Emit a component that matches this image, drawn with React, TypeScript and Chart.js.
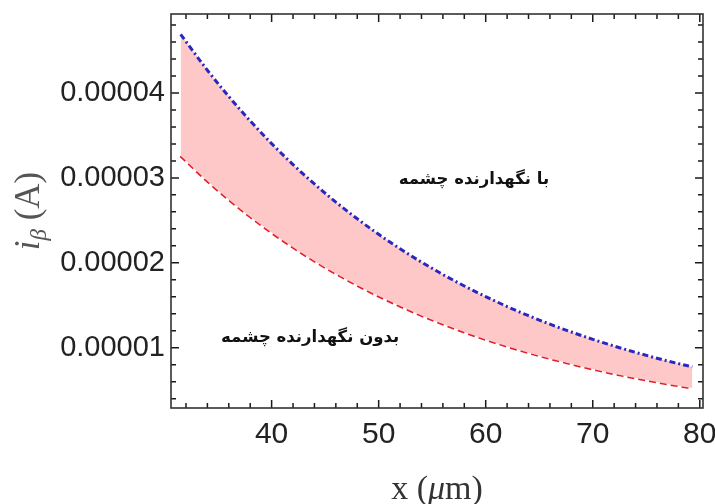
import React, { useEffect, useRef } from "react";
import { Chart, registerables } from "chart.js";

Chart.register(...registerables);

// x positions (µm)
const xs = [31.5, 34, 36, 38, 40, 42, 44, 46, 48, 50, 52, 54, 56, 58, 60, 62, 64, 66, 68, 70, 72, 74, 76, 78, 79.3];
// with source holder (blue, dot-dashed), A
const withHolder = [
  4.69e-5, 4.268e-5, 3.958e-5, 3.671e-5, 3.404e-5, 3.157e-5, 2.928e-5, 2.715e-5, 2.518e-5, 2.335e-5,
  2.165e-5, 2.008e-5, 1.862e-5, 1.727e-5, 1.602e-5, 1.485e-5, 1.377e-5, 1.277e-5, 1.185e-5, 1.099e-5,
  1.019e-5, 0.945e-5, 0.876e-5, 0.813e-5, 0.774e-5,
];
// without source holder (red, dashed), A
const withoutHolder = [
  3.26e-5, 2.963e-5, 2.745e-5, 2.543e-5, 2.356e-5, 2.183e-5, 2.022e-5, 1.874e-5, 1.736e-5, 1.608e-5,
  1.49e-5, 1.38e-5, 1.279e-5, 1.185e-5, 1.098e-5, 1.017e-5, 0.942e-5, 0.873e-5, 0.809e-5, 0.749e-5,
  0.694e-5, 0.643e-5, 0.596e-5, 0.552e-5, 0.525e-5,
];

const xTicks = [40, 50, 60, 70, 80];
const yTicks = [0.00001, 0.00002, 0.00003, 0.00004];
const yTickLabels = ["0.00001", "0.00002", "0.00003", "0.00004"];
const xMinorTicks = [32, 34, 36, 38, 40, 42, 44, 46, 48, 50, 52, 54, 56, 58, 60, 62, 64, 66, 68, 70, 72, 74, 76, 78, 80];
const yMinorTicks = [4, 6, 8, 10, 12, 14, 16, 18, 20, 22, 24, 26, 28, 30, 32, 34, 36, 38, 40, 42, 44, 46, 48];

const labelWith = "با نگهدارنده چشمه";
const labelWithout = "بدون نگهدارنده چشمه";
const labelWithPos = { x: 58.9, y: 2.975e-5 };
const labelWithoutPos = { x: 43.6, y: 1.115e-5 };

const X_MIN = 30.6, X_MAX = 80.3, Y_MIN = 0.29e-5, Y_MAX = 4.93e-5;

const tickFont = "'Liberation Sans', Arial, sans-serif";
const serif = "'Liberation Serif', 'DejaVu Serif', serif";

const overlayPlugin = {
  id: "overlay",
  afterDraw(chart: any) {
    const ctx: CanvasRenderingContext2D = chart.ctx;
    const a = chart.chartArea;
    const x = chart.scales.x, y = chart.scales.y;

    // frame + inward ticks
    ctx.save();
    ctx.strokeStyle = "#1a1a1a";
    ctx.lineWidth = 1.5;
    ctx.beginPath();
    for (const v of xMinorTicks) {
      const px = x.getPixelForValue(v);
      const len = v % 10 === 0 ? 8 : 5;
      ctx.moveTo(px, a.bottom); ctx.lineTo(px, a.bottom - len);
      ctx.moveTo(px, a.top); ctx.lineTo(px, a.top + len);
    }
    for (const k of yMinorTicks) {
      const py = y.getPixelForValue(k * 1e-6);
      const len = k % 10 === 0 ? 8 : 5;
      ctx.moveTo(a.left, py); ctx.lineTo(a.left + len, py);
      ctx.moveTo(a.right, py); ctx.lineTo(a.right - len, py);
    }
    ctx.stroke();
    ctx.lineWidth = 1.6;
    ctx.strokeStyle = "#333";
    ctx.strokeRect(a.left, a.top, a.right - a.left, a.bottom - a.top);
    ctx.restore();

    // annotations
    ctx.save();
    ctx.fillStyle = "#111";
    ctx.font = "bold 16.5px 'DejaVu Sans', sans-serif";
    ctx.textAlign = "center";
    ctx.textBaseline = "middle";
    (ctx as any).direction = "rtl";
    ctx.fillText(labelWith, x.getPixelForValue(labelWithPos.x), y.getPixelForValue(labelWithPos.y));
    ctx.fillText(labelWithout, x.getPixelForValue(labelWithoutPos.x), y.getPixelForValue(labelWithoutPos.y));
    ctx.restore();

    // x title: x (μm)
    ctx.save();
    ctx.fillStyle = "#333";
    ctx.textAlign = "left";
    ctx.textBaseline = "alphabetic";
    const parts: [string, string][] = [
      ["x (", `34px ${serif}`],
      ["μ", `italic 34px ${serif}`],
      ["m)", `34px ${serif}`],
    ];
    let total = 0;
    for (const [t, f] of parts) { ctx.font = f; total += ctx.measureText(t).width; }
    let cx = (a.left + a.right) / 2 - total / 2;
    for (const [t, f] of parts) { ctx.font = f; ctx.fillText(t, cx, 499); cx += ctx.measureText(t).width; }
    ctx.restore();

    // y title: i_β (A)
    ctx.save();
    ctx.translate(39, (a.top + a.bottom) / 2);
    ctx.rotate(-Math.PI / 2);
    ctx.fillStyle = "#555";
    ctx.textAlign = "left";
    ctx.textBaseline = "alphabetic";
    const yparts: [string, string, number][] = [
      ["i", `italic 35px ${serif}`, 0],
      ["β", `italic 23px ${serif}`, 7],
      [" (A)", `35px ${serif}`, 0],
    ];
    let tw = 0;
    for (const [t, f] of yparts) { ctx.font = f; tw += ctx.measureText(t).width; }
    let px = -tw / 2;
    for (const [t, f, dy] of yparts) { ctx.font = f; ctx.fillText(t, px, dy); px += ctx.measureText(t).width; }
    ctx.restore();
  },
};

export default function App() {
  const ref = useRef<HTMLCanvasElement | null>(null);
  useEffect(() => {
    if (!ref.current) return;
    const chart = new Chart(ref.current, {
      type: "line",
      data: {
        datasets: [
          {
            label: labelWith,
            data: xs.map((v, i) => ({ x: v, y: withHolder[i] })),
            borderColor: "rgb(40,40,190)",
            borderWidth: 3,
            borderDash: [6, 3, 2, 3],
            pointRadius: 0,
            cubicInterpolationMode: "monotone",
            fill: "+1",
            backgroundColor: "rgba(255,200,200,1)",
          },
          {
            label: labelWithout,
            data: xs.map((v, i) => ({ x: v, y: withoutHolder[i] })),
            borderColor: "rgb(225,30,40)",
            borderWidth: 3,
            borderDash: [7, 4],
            pointRadius: 0,
            cubicInterpolationMode: "monotone",
            fill: false,
          },
        ],
      },
      options: {
        responsive: false,
        animation: false,
        layout: { padding: { left: 0, right: 12, top: 14, bottom: 0 } },
        plugins: { legend: { display: false }, tooltip: { enabled: false } },
        scales: {
          x: {
            type: "linear",
            min: X_MIN,
            max: X_MAX,
            grid: { display: false, drawTicks: false },
            border: { display: false },
            afterBuildTicks: (s: any) => { s.ticks = xTicks.map((v) => ({ value: v })); },
            afterFit: (s: any) => { s.height = 96; s.paddingLeft = 0; s.paddingRight = 0; },
            ticks: {
              color: "#222",
              padding: 9,
              maxRotation: 0,
              font: { family: tickFont, size: 30 },
              callback: (v: any) => String(v),
            },
          },
          y: {
            type: "linear",
            min: Y_MIN,
            max: Y_MAX,
            grid: { display: false, drawTicks: false },
            border: { display: false },
            afterBuildTicks: (s: any) => { s.ticks = yTicks.map((v) => ({ value: v })); },
            afterFit: (s: any) => { s.width = 171; s.paddingTop = 0; s.paddingBottom = 0; },
            ticks: {
              color: "#222",
              padding: 6,
              font: { family: tickFont, size: 29 },
              callback: (v: any) => {
                const i = yTicks.findIndex((t) => Math.abs(t - v) < 1e-9);
                return i >= 0 ? yTickLabels[i] : "";
              },
            },
          },
        },
      },
      plugins: [overlayPlugin],
    });
    return () => chart.destroy();
  }, []);
  return (
    <div style={{ position: "absolute", left: 0, top: 0, width: 715, height: 504, background: "#fff" }}>
      <canvas ref={ref} width={715} height={504} style={{ display: "block" }} />
    </div>
  );
}
